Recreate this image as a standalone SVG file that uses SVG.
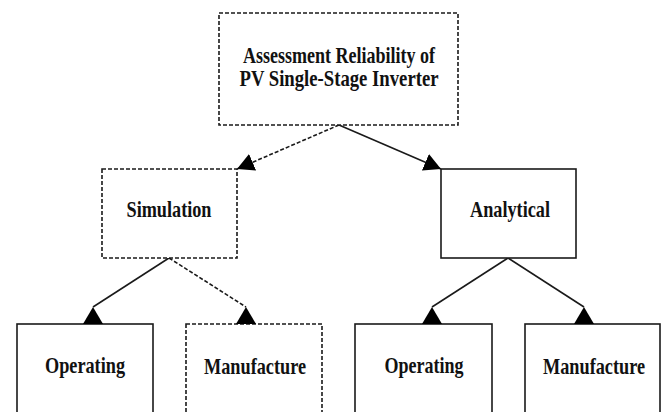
<svg xmlns="http://www.w3.org/2000/svg" width="663" height="412" viewBox="0 0 663 412">
<style>
.box{fill:#fff;stroke:#1a1a1a;stroke-width:1.6}
.dash{stroke-dasharray:4 2}
.lbl{font-family:"Liberation Serif","Times New Roman",serif;font-weight:bold;font-size:24px;fill:#111;text-anchor:middle}
.con{stroke:#1a1a1a;stroke-width:1.6;fill:none}
</style>
<defs>
<marker id="tri" markerUnits="userSpaceOnUse" markerWidth="17" markerHeight="18" viewBox="0 0 17 18" refX="17" refY="9" orient="auto">
<path d="M0,0 L17,9 L0,18 z" fill="#000"/>
</marker>
</defs>
<rect width="663" height="412" fill="#fff"/>
<g id="connectors">
<line class="con dash" x1="339" y1="125" x2="237" y2="169" marker-end="url(#tri)"/>
<line class="con" x1="339" y1="125" x2="441" y2="169" marker-end="url(#tri)"/>
<line class="con" x1="169" y1="258" x2="93" y2="307"/>
<line class="con dash" x1="169" y1="258" x2="246" y2="307"/>
<line class="con" x1="508" y1="258" x2="432" y2="307"/>
<line class="con" x1="508" y1="258" x2="584" y2="307"/>
</g>
<g id="root">
<rect class="box dash" x="219" y="13" width="239" height="112"/>
<text class="lbl" x="339" y="63" textLength="192" lengthAdjust="spacingAndGlyphs">Assessment Reliability of</text>
<text class="lbl" x="339" y="86" textLength="199" lengthAdjust="spacingAndGlyphs">PV Single-Stage Inverter</text>
</g>
<g id="simulation">
<rect class="box dash" x="102" y="169" width="135" height="89"/>
<text class="lbl" x="169" y="217" textLength="85" lengthAdjust="spacingAndGlyphs">Simulation</text>
</g>
<g id="analytical">
<rect class="box" x="441" y="169" width="135" height="89"/>
<text class="lbl" x="510" y="217" textLength="80" lengthAdjust="spacingAndGlyphs">Analytical</text>
</g>
<g id="sim-operating">
<rect class="box" x="17" y="324" width="136" height="100"/>
<text class="lbl" x="85" y="373" textLength="80" lengthAdjust="spacingAndGlyphs">Operating</text>
</g>
<g id="sim-manufacture">
<rect class="box dash" x="186" y="324" width="136" height="100"/>
<text class="lbl" x="255" y="374" textLength="102" lengthAdjust="spacingAndGlyphs">Manufacture</text>
</g>
<g id="ana-operating">
<rect class="box" x="355" y="324" width="137" height="100"/>
<text class="lbl" x="424" y="373" textLength="79" lengthAdjust="spacingAndGlyphs">Operating</text>
</g>
<g id="ana-manufacture">
<rect class="box" x="525" y="324" width="135" height="100"/>
<text class="lbl" x="594" y="374" textLength="102" lengthAdjust="spacingAndGlyphs">Manufacture</text>
</g>
<g id="arrowheads">
<path d="M93,307 L83,324 L103,324 z" fill="#000"/>
<path d="M246,307 L236,324 L256,324 z" fill="#000"/>
<path d="M432,307 L422,324 L442,324 z" fill="#000"/>
<path d="M584,307 L574,324 L594,324 z" fill="#000"/>
</g>
</svg>
